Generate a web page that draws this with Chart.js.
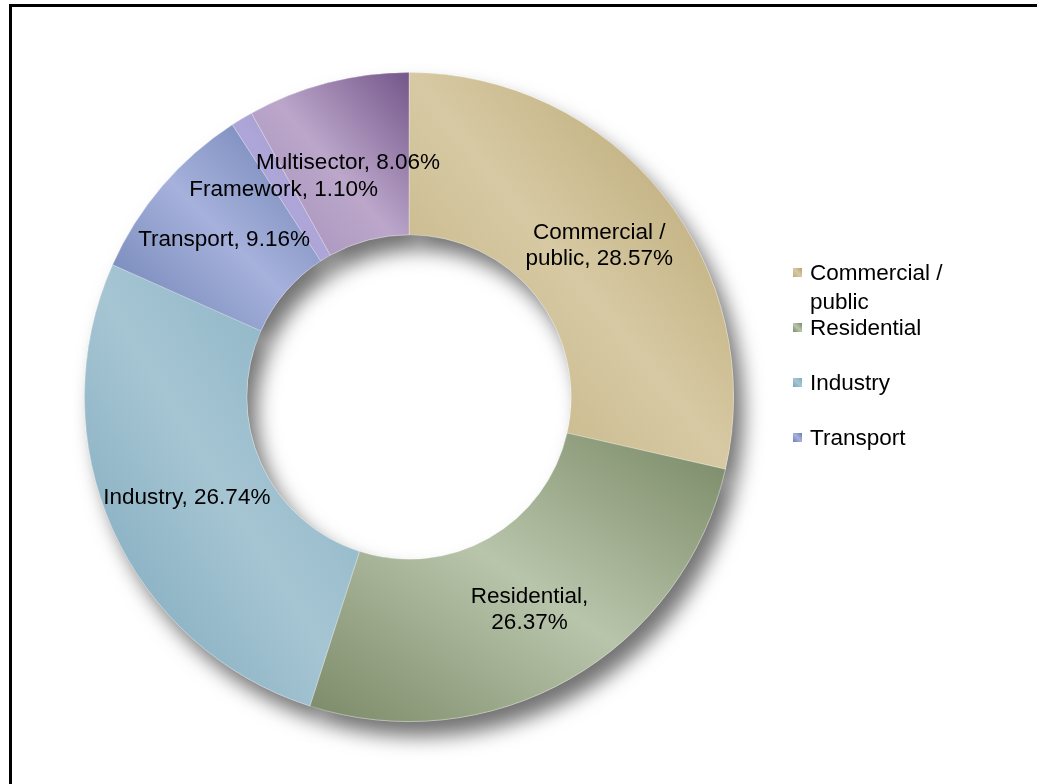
<!DOCTYPE html>
<html>
<head>
<meta charset="utf-8">
<script src="https://cdn.jsdelivr.net/npm/chart.js@4.4.1/dist/chart.umd.min.js"></script>
<style>
  html, body { margin: 0; padding: 0; background: #fff; overflow: hidden; }
  #wrap { position: relative; width: 1037px; height: 784px; }
  #frame {
    position: absolute; left: 9px; top: 4px; width: 1100px; height: 900px;
    border-left: 3px solid #000; border-top: 3px solid #000;
  }
  #chart { position: absolute; left: 0; top: 0; }
</style>
</head>
<body>
<div id="wrap">
  <div id="frame"></div>
  <canvas id="chart" width="1037" height="784"></canvas>
</div>
<script>
// sector shares, clockwise from 12 o'clock
const sectors = ['Commercial / public', 'Residential', 'Industry', 'Transport', 'Framework', 'Multisector'];
const shares = [28.57, 26.37, 26.74, 9.16, 1.10, 8.06];

// [edge, centre, other edge] colour for each slice's sheen
const shades = [
    ['#bdad7c', '#d7c9a3', '#b3a16b'],
    ['#7b8a68', '#b9c5ab', '#788864'],
    ['#78a5b9', '#a6c5d3', '#81adc0'],
    ['#6c80b1', '#a6b1dc', '#6a7eaf'],
    ['#9f96ca', '#aea6d8', '#9d94c8'],
    ['#a28db7', '#bca7cb', '#74568a']
];

const FONT = '22.5px "Liberation Sans", Arial, sans-serif';
const wrapLabel = [true, true, false, false, false, false];
const legendItems = 4;   // legend box only fits the first four entries

// diagonal gradient across the slice's bounding box, light streak along the box diagonal
function sliceGradient(ctx) {
    const i = ctx.dataIndex;
    if (i === undefined) return '#ccc';
    const chart = ctx.chart;
    const area = chart.chartArea;
    if (!area) return shades[i][1];
    const ctrl = chart.getDatasetMeta(0).controller;
    const cx = (area.left + area.right) / 2;
    const cy = (area.top + area.bottom) / 2;
    const R = ctrl.outerRadius || Math.min(area.width, area.height) / 2;
    const r = ctrl.innerRadius || R * 0.5;
    const total = shares.reduce((a, b) => a + b, 0);
    let before = 0;
    for (let k = 0; k < i; k++) before += shares[k];
    const a0 = -Math.PI / 2 + 2 * Math.PI * before / total;
    const a1 = a0 + 2 * Math.PI * shares[i] / total;

    let x0 = Infinity, y0 = Infinity, x1 = -Infinity, y1 = -Infinity;
    for (let s = 0; s <= 40; s++) {
        const a = a0 + (a1 - a0) * s / 40;
        for (const rad of [r, R]) {
            const x = cx + rad * Math.cos(a), y = cy + rad * Math.sin(a);
            x0 = Math.min(x0, x); x1 = Math.max(x1, x);
            y0 = Math.min(y0, y); y1 = Math.max(y1, y);
        }
    }
    const w = x1 - x0, h = y1 - y0;
    const len = Math.hypot(w, h) || 1;
    const nx = h / len, ny = -w / len, d = w * h / len;
    const mx = (x0 + x1) / 2, my = (y0 + y1) / 2;
    const g = chart.ctx.createLinearGradient(mx - nx * d, my - ny * d, mx + nx * d, my + ny * d);
    g.addColorStop(0, shades[i][0]);
    g.addColorStop(0.5, shades[i][1]);
    g.addColorStop(1, shades[i][2]);
    return g;
}

function wrapText(ctx, text, maxWidth) {
    const words = text.split(' ');
    const lines = [];
    let line = '';
    words.forEach(wd => {
        const test = line ? line + ' ' + wd : wd;
        if (line && ctx.measureText(test).width > maxWidth) {
            lines.push(line);
            line = wd;
        } else {
            line = test;
        }
    });
    if (line) lines.push(line);
    return lines;
}

// soft drop shadow under the ring
const ringShadow = {
    id: 'ringShadow',
    beforeDatasetsDraw(chart) {
        const ctx = chart.ctx;
        ctx.save();
        ctx.shadowColor = 'rgba(0,0,0,0.55)';
        ctx.shadowBlur = 20;
        ctx.shadowOffsetX = 10;
        ctx.shadowOffsetY = 15;
        chart.getDatasetMeta(0).data.forEach(arc => arc.draw(ctx));
        ctx.restore();
    }
};

// "Name, xx.xx%" inside every slice
const sliceLabels = {
    id: 'sliceLabels',
    afterDatasetsDraw(chart) {
        const ctx = chart.ctx;
        ctx.save();
        ctx.font = FONT;
        ctx.fillStyle = '#000';
        ctx.textAlign = 'center';
        ctx.textBaseline = 'middle';
        chart.getDatasetMeta(0).data.forEach((arc, i) => {
            const p = arc.tooltipPosition();
            const text = sectors[i] + ', ' + shares[i].toFixed(2) + '%';
            const lines = wrapLabel[i] ? wrapText(ctx, text, 160) : [text];
            const lh = 26;
            lines.forEach((ln, k) => {
                ctx.fillText(ln, p.x, p.y + (k - (lines.length - 1) / 2) * lh + 1);
            });
        });
        ctx.restore();
    }
};

// legend on the right
const sideLegend = {
    id: 'sideLegend',
    afterDraw(chart) {
        const ctx = chart.ctx;
        const left = 793, top = 273, step = 55;
        ctx.save();
        ctx.font = FONT;
        ctx.textAlign = 'left';
        ctx.textBaseline = 'middle';
        for (let i = 0; i < legendItems; i++) {
            const y = top + i * step;
            const g = ctx.createLinearGradient(left, y + 4, left + 9, y - 5);
            g.addColorStop(0, shades[i][0]);
            g.addColorStop(0.5, shades[i][1]);
            g.addColorStop(1, shades[i][2]);
            ctx.fillStyle = g;
            ctx.fillRect(left, y - 5, 9, 9);
            ctx.fillStyle = '#000';
            const lines = wrapText(ctx, sectors[i], 140);
            lines.forEach((ln, k) => ctx.fillText(ln, left + 17, y + k * 29 + 1));
        }
        ctx.restore();
    }
};

new Chart(document.getElementById('chart'), {
    type: 'doughnut',
    data: {
        labels: sectors,
        datasets: [{
            data: shares,
            backgroundColor: sliceGradient,
            borderColor: 'rgba(255,255,255,0.3)',
            borderWidth: 1
        }]
    },
    options: {
        responsive: false,
        animation: false,
        cutout: '50%',
        layout: { padding: { left: 84, top: 72, right: 303, bottom: 62 } },
        plugins: {
            legend: { display: false },
            tooltip: { enabled: false }
        }
    },
    plugins: [ringShadow, sliceLabels, sideLegend]
});
</script>
</body>
</html>
